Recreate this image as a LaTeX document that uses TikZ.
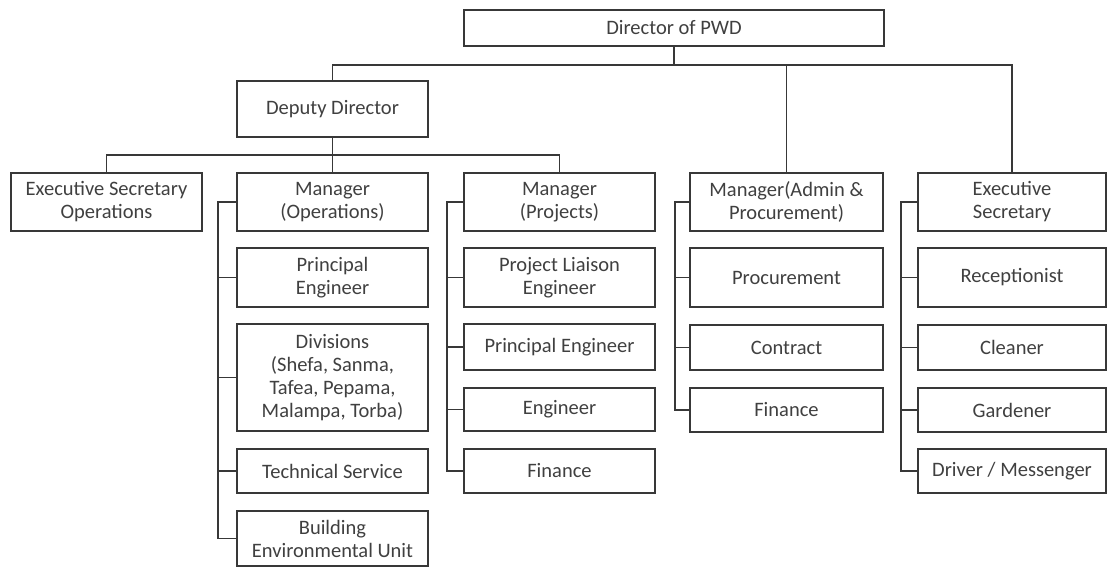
\documentclass[tikz,border=0pt]{standalone}
\usepackage{fontspec}
\setmainfont{Carlito}
\definecolor{linecol}{HTML}{383838}
\definecolor{txtcol}{HTML}{404040}
\tikzset{
  box/.style={draw=linecol, line width=1.5pt, text=txtcol, align=center, inner sep=0pt,
    font=\fontsize{20.5}{23}\selectfont},
  conn/.style={draw=linecol, line width=1.5pt}
}
\begin{document}
\begin{tikzpicture}[x=1pt,y=-1pt]
\useasboundingbox[fill=white] (0,0) rectangle (1108,568);
% top
\node[box, minimum width=420, minimum height=36] (dir) at (674,28) {Director of PWD};
\node[box, minimum width=191, minimum height=56] (dep) at (332.5,109) {Deputy Director};
% row 1
\node[box, minimum width=191, minimum height=58] (eso) at (106.5,202) {Executive Secretary\\Operations};
\node[box, minimum width=191, minimum height=58] (ops) at (332.5,202) {Manager\\(Operations)};
\node[box, minimum width=191, minimum height=58] (prj) at (559.5,202) {Manager\\(Projects)};
\node[box, minimum width=193, minimum height=58] (adm) at (786.5,202) {Manager(Admin \&\\Procurement)};
\node[box, minimum width=188, minimum height=58] (exs) at (1012,202) {Executive\\Secretary};
% operations column
\node[box, minimum width=191, minimum height=59] (o1) at (332.5,277.5) {Principal\\Engineer};
\node[box, minimum width=191, minimum height=107] (o2) at (332.5,377.5) {Divisions\\(Shefa, Sanma,\\Tafea, Pepama,\\Malampa, Torba)};
\node[box, minimum width=191, minimum height=44] (o3) at (332.5,471) {Technical Service};
\node[box, minimum width=191, minimum height=55] (o4) at (332.5,538.5) {Building\\Environmental Unit};
% projects column
\node[box, minimum width=191, minimum height=59] (p1) at (559.5,277.5) {Project Liaison\\Engineer};
\node[box, minimum width=191, minimum height=46] (p2) at (559.5,347) {Principal Engineer};
\node[box, minimum width=191, minimum height=43] (p3) at (559.5,409.5) {Engineer};
\node[box, minimum width=191, minimum height=44] (p4) at (559.5,471) {Finance};
% admin column
\node[box, minimum width=193, minimum height=59] (a1) at (786.5,277.5) {Procurement};
\node[box, minimum width=193, minimum height=45] (a2) at (786.5,347.5) {Contract};
\node[box, minimum width=193, minimum height=44] (a3) at (786.5,410) {Finance};
% executive secretary column
\node[box, minimum width=188, minimum height=59] (e1) at (1012,277.5) {Receptionist};
\node[box, minimum width=188, minimum height=45] (e2) at (1012,347.5) {Cleaner};
\node[box, minimum width=188, minimum height=44] (e3) at (1012,410) {Gardener};
\node[box, minimum width=188, minimum height=44] (e4) at (1012,471) {Driver / Messenger};
% bus coordinates
\coordinate (b1) at (0,65);
\coordinate (b2) at (0,155);
\coordinate (lo) at (218,0);
\coordinate (lp) at (447,0);
\coordinate (la) at (675,0);
\coordinate (le) at (901,0);
% top bus
\draw[conn] (dir.south) -- (dir.south |- b1);
\draw[conn] (dep.north) -- (dep.north |- b1) -- (exs.north |- b1) -- (exs.north);
\draw[conn] (adm.north) -- (adm.north |- b1);
% second bus
\draw[conn] (dep.south) -- (ops.north);
\draw[conn] (eso.north) -- (eso.north |- b2) -- (prj.north |- b2) -- (prj.north);
% operations bracket
\draw[conn] (ops.west) -- (ops.west -| lo) -- (o4.west -| lo) -- (o4.west);
\foreach \n in {o1,o2,o3} \draw[conn] (\n.west) -- (\n.west -| lo);
% projects bracket
\draw[conn] (prj.west) -- (prj.west -| lp) -- (p4.west -| lp) -- (p4.west);
\foreach \n in {p1,p2,p3} \draw[conn] (\n.west) -- (\n.west -| lp);
% admin bracket
\draw[conn] (adm.west) -- (adm.west -| la) -- (a3.west -| la) -- (a3.west);
\foreach \n in {a1,a2} \draw[conn] (\n.west) -- (\n.west -| la);
% exec bracket
\draw[conn] (exs.west) -- (exs.west -| le) -- (e4.west -| le) -- (e4.west);
\foreach \n in {e1,e2,e3} \draw[conn] (\n.west) -- (\n.west -| le);
\end{tikzpicture}
\end{document}
